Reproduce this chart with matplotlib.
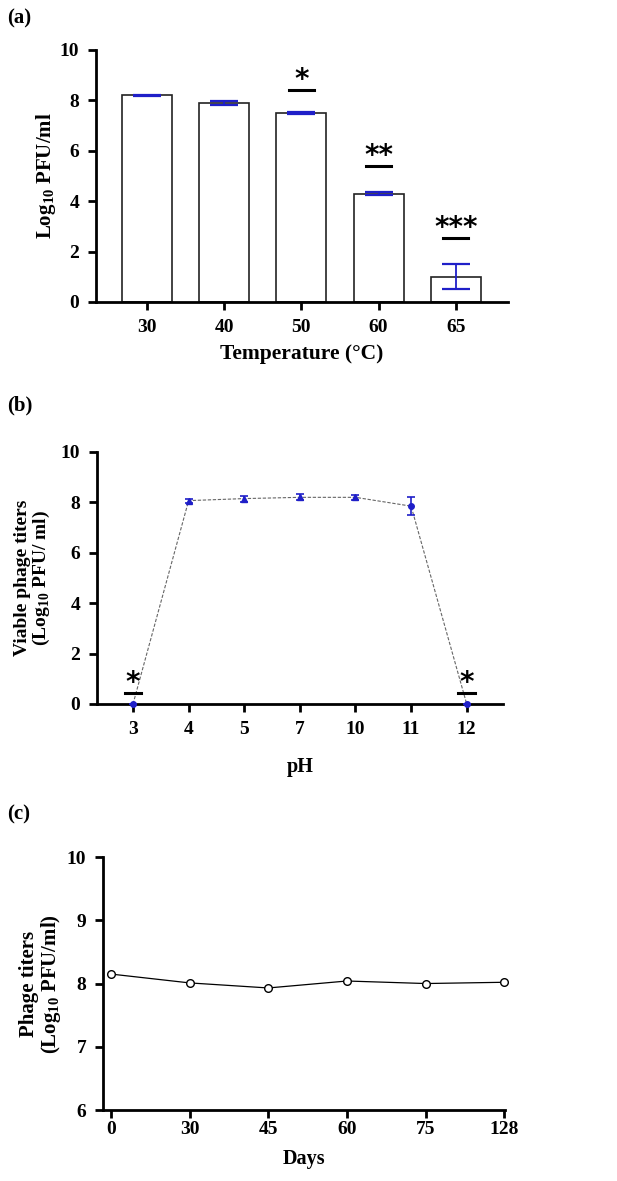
import numpy as np
import matplotlib
matplotlib.use("Agg")
import matplotlib.pyplot as plt

plt.rcParams["font.family"] = ["Liberation Serif", "DejaVu Serif"]
plt.rcParams["font.weight"] = "bold"
plt.rcParams["mathtext.fontset"] = "custom"
plt.rcParams["mathtext.rm"] = "Liberation Serif:bold"
plt.rcParams["mathtext.bf"] = "Liberation Serif:bold"

# (a) temperature
temp_labels = ["30", "40", "50", "60", "65"]
temp_means = [8.2, 7.9, 7.5, 4.3, 1.0]
temp_err = [0.02, 0.08, 0.04, 0.05, 0.5]
temp_sig = ["", "", "*", "**", "***"]
temp_sig_y = [0, 0, 8.4, 5.4, 2.55]

# (b) pH
ph_labels = ["3", "4", "5", "7", "10", "11", "12"]
ph_means = [0.0, 8.07, 8.15, 8.2, 8.2, 7.85, 0.0]
ph_err = [0.0, 0.08, 0.12, 0.12, 0.1, 0.35, 0.0]
ph_sig = ["*", "", "", "", "", "", "*"]
ph_sig_y = [0.44, 0, 0, 0, 0, 0, 0.44]

# (c) storage
day_labels = ["0", "30", "45", "60", "75", "128"]
day_means = [8.15, 8.01, 7.93, 8.04, 8.0, 8.02]

BLUE = "#1f1fc8"
TICK_FS = 14

fig = plt.figure(figsize=(6.17, 11.81), dpi=100)


def style_axes(ax, pad=6):
    for s in ["top", "right"]:
        ax.spines[s].set_visible(False)
    for s in ["left", "bottom"]:
        ax.spines[s].set_linewidth(2.0)
    ax.tick_params(direction="out", length=6, width=2.0, labelsize=TICK_FS, pad=pad)
    for lab in ax.get_xticklabels() + ax.get_yticklabels():
        lab.set_fontweight("bold")


def add_stars(ax, xs, marks, heights, half):
    for xi, s, y in zip(xs, marks, heights):
        if s:
            ax.plot([xi - half, xi + half], [y, y], color="black", lw=2.2)
            ax.annotate(s, (xi, y), xytext=(0, -3), textcoords="offset points",
                        ha="center", va="bottom", fontsize=20,
                        family="DejaVu Sans", fontweight="bold")


# ---- (a)
ax1 = fig.add_axes([0.1556, 0.7443, 0.667, 0.2134])
x1 = np.arange(len(temp_labels))
ax1.bar(x1, temp_means, width=0.65, color="white", edgecolor="#222222", linewidth=1.2, zorder=2)
ax1.errorbar(x1, temp_means, yerr=temp_err, fmt="none", ecolor=BLUE, elinewidth=1.3,
             capsize=10, capthick=1.6, zorder=3)
add_stars(ax1, x1, temp_sig, temp_sig_y, 0.16)
ax1.set_xlim(-0.66, 4.67)
ax1.set_ylim(0, 10)
ax1.set_yticks([0, 2, 4, 6, 8, 10])
ax1.set_xticks(x1)
ax1.set_xticklabels(temp_labels)
ax1.set_ylabel(r"Log$_{10}$ PFU/ml", fontsize=15, fontweight="bold", labelpad=1)
ax1.set_xlabel("Temperature (°C)", fontsize=15.5, fontweight="bold", labelpad=6)
style_axes(ax1)
fig.text(0.012, 0.984, "(a)", fontsize=15, fontweight="bold", va="center")

# ---- (b)
ax2 = fig.add_axes([0.157, 0.4039, 0.658, 0.2134])
x2 = np.arange(len(ph_labels))
ax2.plot(x2, ph_means, color="#666666", lw=0.8, ls=(0, (3, 1.5)), zorder=2)
ax2.errorbar(x2, ph_means, yerr=ph_err, fmt="none", ecolor=BLUE, elinewidth=1.2,
             capsize=3, capthick=1.2, zorder=3)
ph_markers = ["o", "^", "^", "^", "^", "o", "o"]
for xi, yi, m in zip(x2, ph_means, ph_markers):
    ax2.plot(xi, yi, marker=m, color=BLUE, ms=4, zorder=4, clip_on=False)
add_stars(ax2, x2, ph_sig, ph_sig_y, 0.15)
ax2.set_xlim(-0.65, 6.65)
ax2.set_ylim(0, 10)
ax2.set_yticks([0, 2, 4, 6, 8, 10])
ax2.set_xticks(x2)
ax2.set_xticklabels(ph_labels)
ax2.set_ylabel("Viable phage titers\n" + r"(Log$_{10}$ PFU/ ml)", fontsize=14,
               fontweight="bold", labelpad=6, linespacing=1.0)
ax2.set_xlabel("pH", fontsize=14.5, fontweight="bold", labelpad=14)
style_axes(ax2)
fig.text(0.012, 0.657, "(b)", fontsize=15, fontweight="bold", va="center")

# ---- (c)
ax3 = fig.add_axes([0.167, 0.0601, 0.6515, 0.2142])
x3 = np.arange(len(day_labels))
ax3.plot(x3, day_means, color="black", lw=0.9, marker="o", ms=5.5, mfc="white",
         mec="black", mew=1.0, zorder=3, clip_on=False)
ax3.set_xlim(-0.1, 5.01)
ax3.set_ylim(6, 10)
ax3.set_yticks([6, 7, 8, 9, 10])
ax3.set_xticks(x3)
ax3.set_xticklabels(day_labels)
ax3.set_ylabel("Phage titers\n" + r"(Log$_{10}$ PFU/ml)", fontsize=15,
               fontweight="bold", labelpad=3, linespacing=1.0)
ax3.set_xlabel("Days", fontsize=14.5, fontweight="bold", labelpad=8)
style_axes(ax3, pad=2)
ax3.tick_params(axis="y", pad=6)
fig.text(0.012, 0.31, "(c)", fontsize=15, fontweight="bold", va="center")

fig.savefig("out.png", dpi=100)
